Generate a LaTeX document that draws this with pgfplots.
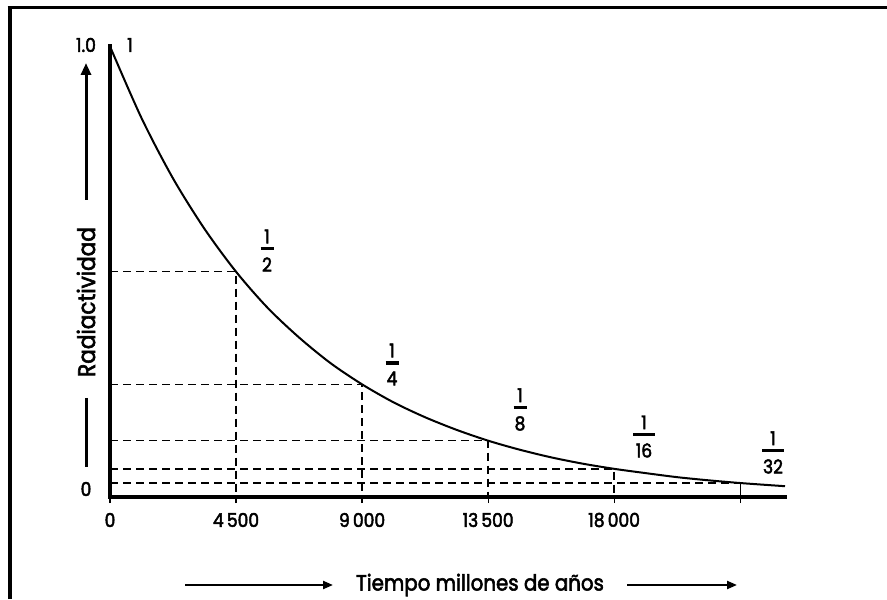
\documentclass[border=0pt]{standalone}
\usepackage{pgfplots}
\pgfplotsset{compat=1.18}
\usetikzlibrary{arrows.meta}
\usepackage{fontspec}
\setmainfont{Poppins}[FakeStretch=0.9, FakeBold=2.5]
\newcommand{\fr}[3]{\vbox{\hbox to #3{\hss#1\hss}\kern2pt\hrule height 1.6pt width #3\kern3.5pt\hbox to #3{\hss#2\hss}}}
\begin{document}
\begin{tikzpicture}[x=0.5pt,y=0.5pt]
\useasboundingbox (0,0) rectangle (887,599);
% frame (left and top only)
\draw[line width=2.25pt] (9.8,0) -- (9.8,593.25);
\draw[line width=1.75pt] (7.6,591.5) -- (887,591.5);
\begin{axis}[
  at={(55pt,51pt)}, anchor=south west,
  scale only axis, width=337.5pt, height=225.3pt,
  xmin=0, xmax=24100, ymin=0, ymax=1,
  clip=false,
  axis x line*=bottom, axis y line*=left,
  axis line style={line width=2.3pt,-,line cap=rect},
  xtick={0,4500,9000,13500,18000,22500},
  xticklabels={0,4\,500,9\,000,13\,500,18\,000,{}},
  scaled x ticks=false,
  ytick=\empty,
  tick align=outside, major tick length=3pt,
  every tick/.style={black,line width=0.6pt},
  xticklabel style={font=\fontsize{9.5}{11}\selectfont, anchor=center, yshift=-8.5pt},
]
% half-life guide lines
\addplot[black, line width=0.65pt, dash pattern=on 4pt off 2.5pt] coordinates {(0,0.5) (4500,0.5) (4500,0)};
\addplot[black, line width=0.8pt, dash pattern=on 4pt off 2.5pt] coordinates {(0,0.25) (9000,0.25) (9000,0)};
\addplot[black, line width=0.8pt, dash pattern=on 4pt off 2.5pt] coordinates {(0,0.125) (13500,0.125) (13500,0)};
\addplot[black, line width=0.7pt, dash pattern=on 4pt off 2.5pt] coordinates {(0,0.0625) (18000,0.0625) (18000,0)};
\addplot[black, line width=0.8pt, dash pattern=on 4pt off 2.5pt] coordinates {(0,0.03125) (22500,0.03125)};
\addplot[black, line width=0.6pt] coordinates {(22500,0.03125) (22500,0)};
% decay curve
\addplot[black, line width=1pt, smooth] coordinates {
(0,1.0) (1125,0.841) (2250,0.707) (3375,0.595) (4500,0.5) (5625,0.420)
(6750,0.354) (7875,0.297) (9000,0.25) (10125,0.210) (11250,0.177)
(12375,0.149) (13500,0.125) (14625,0.105) (15750,0.088) (16875,0.074)
(18000,0.0625) (19125,0.053) (20250,0.044) (21375,0.037) (22500,0.031)
(23625,0.026) (24100,0.024)};
\end{axis}
% fraction labels
\begin{scope}[every node/.style={font=\fontsize{9.5}{11}\selectfont, inner sep=0pt}]
\node at (267,348.5) {\fr{1}{2}{6.5pt}};
\node at (392,234.5) {\fr{1}{4}{6.5pt}};
\node at (520,189.5) {\fr{1}{8}{6.5pt}};
\node at (644,162.5) {\fr{1}{16}{11pt}};
\node at (773,146.5) {\fr{1}{32}{11pt}};
\node at (86,554) {1.0};
\node at (130,554) {1};
\node at (86,110) {0};
\end{scope}
% y-axis label with arrow
\draw[line width=1.5pt, -{Triangle[width=5pt,length=6pt]}] (86,399) -- (86,536);
\node[rotate=90, font=\fontsize{12}{14}\selectfont] at (86,297) {Radiactividad};
\draw[line width=1.5pt] (86,201) -- (86,132);
% x-axis label with arrows
\node[font=\fontsize{11}{13}\selectfont] at (480,14) {Tiempo millones de años};
\draw[line width=1.1pt, -{Triangle[width=4pt,length=5pt]}] (185,14) -- (333,14);
\draw[line width=1.1pt, -{Triangle[width=4pt,length=5pt]}] (627,14) -- (737,14);
\end{tikzpicture}
\end{document}
